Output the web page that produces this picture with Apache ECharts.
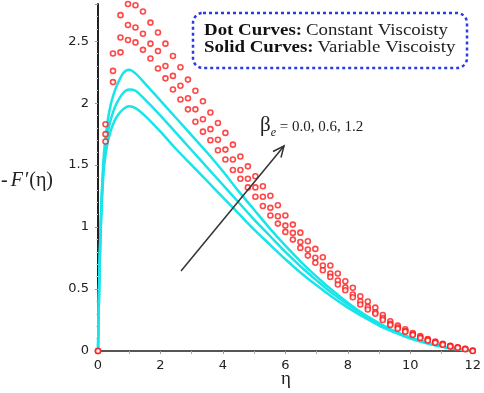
<!DOCTYPE html>
<html>
<head>
<meta charset="utf-8">
<script src="https://cdn.jsdelivr.net/npm/echarts@6/dist/echarts.min.js"></script>
<style>
  html, body { margin: 0; padding: 0; background: #fff; }
  #chart { width: 484px; height: 393px; }
</style>
</head>
<body>
<div id="chart"></div>
<script>
// solid curves (variable viscosity), beta_e = 0.0, 0.6, 1.2
const etaSolid = [0, 0.05, 0.1, 0.15, 0.2, 0.3, 0.4, 0.5, 0.6, 0.8, 1.0, 1.2, 1.5, 2, 2.5, 3, 3.5, 4, 4.5, 5, 5.5, 6, 6.5, 7, 7.5, 8, 8.5, 9, 9.5, 10, 10.5, 11, 11.5, 12]
const solidA = [0, 0.70, 1.15, 1.42, 1.62, 1.84, 1.98, 2.07, 2.14, 2.24, 2.27, 2.24, 2.16, 2.02, 1.88, 1.74, 1.60, 1.45, 1.29, 1.14, 0.99, 0.85, 0.72, 0.60, 0.49, 0.39, 0.30, 0.225, 0.16, 0.11, 0.07, 0.038, 0.015, 0]
const solidB = [0, 0.68, 1.10, 1.38, 1.56, 1.74, 1.86, 1.94, 2.00, 2.08, 2.11, 2.10, 2.03, 1.90, 1.76, 1.62, 1.48, 1.34, 1.20, 1.06, 0.93, 0.80, 0.68, 0.57, 0.465, 0.375, 0.29, 0.215, 0.155, 0.105, 0.067, 0.037, 0.015, 0]
const solidC = [0, 0.66, 1.06, 1.33, 1.50, 1.67, 1.77, 1.84, 1.89, 1.95, 1.975, 1.96, 1.90, 1.77, 1.63, 1.50, 1.37, 1.24, 1.11, 0.98, 0.86, 0.74, 0.63, 0.53, 0.435, 0.35, 0.275, 0.205, 0.15, 0.10, 0.065, 0.036, 0.014, 0]

// dot curves (constant viscosity), sampled every 0.24
const etaDot = [0, 0.24, 0.48, 0.72, 0.96, 1.2, 1.44, 1.68, 1.92, 2.16, 2.4, 2.64, 2.88, 3.12, 3.36, 3.6, 3.84, 4.08, 4.32, 4.56, 4.8, 5.04, 5.28, 5.52, 5.76, 6, 6.24, 6.48, 6.72, 6.96, 7.2, 7.44, 7.68, 7.92, 8.16, 8.4, 8.64, 8.88, 9.12, 9.36, 9.6, 9.84, 10.08, 10.32, 10.56, 10.8, 11.04, 11.28, 11.52, 11.76, 12]
const dotA = [0, 1.83, 2.40, 2.71, 2.80, 2.79, 2.74, 2.65, 2.57, 2.48, 2.38, 2.29, 2.19, 2.10, 2.015, 1.925, 1.84, 1.76, 1.665, 1.57, 1.49, 1.41, 1.33, 1.253, 1.176, 1.093, 1.02, 0.955, 0.885, 0.824, 0.756, 0.69, 0.625, 0.563, 0.51, 0.442, 0.40, 0.35, 0.29, 0.24, 0.205, 0.175, 0.145, 0.12, 0.097, 0.077, 0.058, 0.042, 0.03, 0.018, 0.003]
const dotB = [0, 1.75, 2.26, 2.53, 2.63, 2.61, 2.56, 2.48, 2.42, 2.30, 2.22, 2.14, 2.04, 1.95, 1.87, 1.79, 1.705, 1.625, 1.545, 1.46, 1.39, 1.32, 1.245, 1.155, 1.087, 1.012, 0.953, 0.88, 0.819, 0.752, 0.69, 0.625, 0.569, 0.513, 0.456, 0.40, 0.356, 0.313, 0.265, 0.22, 0.19, 0.16, 0.135, 0.11, 0.09, 0.07, 0.054, 0.04, 0.028, 0.016, 0.002]
const dotC = [0, 1.69, 2.17, 2.41, 2.51, 2.49, 2.43, 2.36, 2.28, 2.20, 2.11, 2.03, 1.95, 1.85, 1.77, 1.70, 1.62, 1.545, 1.46, 1.39, 1.32, 1.245, 1.17, 1.093, 1.028, 0.961, 0.899, 0.832, 0.77, 0.712, 0.652, 0.598, 0.536, 0.49, 0.434, 0.375, 0.335, 0.30, 0.25, 0.21, 0.18, 0.155, 0.13, 0.105, 0.085, 0.066, 0.05, 0.037, 0.026, 0.015, 0]

const xTicks = [0, 2, 4, 6, 8, 10, 12]
const yTicks = [0, 0.5, 1, 1.5, 2, 2.5]

const zip = (xs, ys) => xs.map((x, i) => [x, ys[i]])

const solidLine = (name, ys) => ({
  name: name,
  type: 'line',
  data: zip(etaSolid, ys),
  smooth: 0.3,
  showSymbol: false,
  lineStyle: { color: '#18e4ea', width: 2.5 },
  z: 2
})

const dotSeries = (name, ys) => ({
  name: name,
  type: 'scatter',
  data: zip(etaDot, ys),
  symbol: 'circle',
  symbolSize: 5,
  itemStyle: { color: '#ffffff', borderColor: '#ff1a1a', borderWidth: 1.6 },
  z: 3
})

const chart = echarts.init(document.getElementById('chart'))

chart.setOption({
  animation: false,
  backgroundColor: '#fff',
  grid: { left: 98, right: 9, top: 4, bottom: 42 },
  xAxis: {
    type: 'value',
    min: 0,
    max: 12,
    interval: 2,
    axisLine: { lineStyle: { color: '#555', width: 2 } },
    axisTick: { show: true, length: 3, lineStyle: { color: '#999' } },
    minorTick: { show: true, splitNumber: 2, length: 3, lineStyle: { color: '#aaa' } },
    splitLine: { show: false },
    axisLabel: {
      color: '#222',
      fontFamily: 'DejaVu Sans',
      fontSize: 13,
      margin: 8,
      formatter: v => (xTicks.includes(v) ? String(v) : '')
    }
  },
  yAxis: {
    type: 'value',
    min: 0,
    max: 2.8,
    interval: 0.5,
    axisLine: { show: true, lineStyle: { color: '#222', width: 2 } },
    axisTick: { show: true, inside: false, length: 3, lineStyle: { color: '#999' } },
    minorTick: { show: true, splitNumber: 5, length: 2, lineStyle: { color: '#ccc' } },
    splitLine: { show: false },
    axisLabel: {
      color: '#222',
      fontFamily: 'DejaVu Sans',
      fontSize: 13,
      margin: 9,
      showMaxLabel: false,
      formatter: v => (yTicks.includes(v) ? String(v) : '')
    }
  },
  series: [
    solidLine('solid 0.0', solidA),
    solidLine('solid 0.6', solidB),
    solidLine('solid 1.2', solidC),
    dotSeries('dot 0.0', dotA),
    dotSeries('dot 0.6', dotB),
    dotSeries('dot 1.2', dotC)
  ],
  graphic: [
    // legend box
    {
      type: 'rect',
      shape: { x: 193, y: 13, width: 274, height: 55, r: 10 },
      style: { fill: '#fff', stroke: '#2b3be8', lineWidth: 2.5, lineDash: [3, 3] },
      z: 10
    },
    // text is stretched sideways in the original
    {
      type: 'text',
      x: 204,
      y: 22,
      scaleX: 1.18,
      style: {
        text: '{b|Dot Curves:} {n|Constant Viscoisty}\n{b|Solid Curves:} {n|Variable Viscoisty}',
        rich: {
          b: { fontFamily: 'Liberation Serif', fontWeight: 'bold', fontSize: 16, fill: '#111', lineHeight: 17 },
          n: { fontFamily: 'Liberation Serif', fontSize: 16, fill: '#222', lineHeight: 17 }
        }
      },
      z: 11
    },
    // arrow
    {
      type: 'polyline',
      shape: { points: [[181, 271], [284, 146]] },
      style: { stroke: '#333', lineWidth: 1.5 },
      z: 12
    },
    {
      type: 'polyline',
      shape: { points: [[273, 151.5], [284, 146], [281, 157.5]] },
      style: { stroke: '#333', lineWidth: 1.5, fill: null },
      z: 12
    },
    // beta annotation
    {
      type: 'text',
      left: 260,
      top: 115,
      style: {
        text: '{g|β}{s|e}{t| = 0.0, 0.6, 1.2}',
        rich: {
          g: { fontFamily: 'Liberation Serif', fontSize: 21, fill: '#222' },
          s: { fontFamily: 'Liberation Serif', fontStyle: 'italic', fontSize: 12, fill: '#222', padding: [14, 0, 0, 0] },
          t: { fontFamily: 'Liberation Serif', fontSize: 15, fill: '#222', padding: [3, 0, 0, 0] }
        }
      },
      z: 12
    },
    // axis names
    {
      type: 'text',
      left: 1,
      top: 171,
      style: {
        text: '-{i|F}′(η)',
        fontFamily: 'Liberation Serif',
        fontSize: 20,
        fill: '#222',
        rich: { i: { fontFamily: 'Liberation Serif', fontStyle: 'italic', fontSize: 20, fill: '#222', padding: [0, 2, 0, 3] } }
      }
    },
    {
      type: 'text',
      left: 281,
      top: 370,
      style: { text: 'η', fontFamily: 'Liberation Serif', fontSize: 19, fill: '#222' }
    }
  ]
})
</script>
</body>
</html>
